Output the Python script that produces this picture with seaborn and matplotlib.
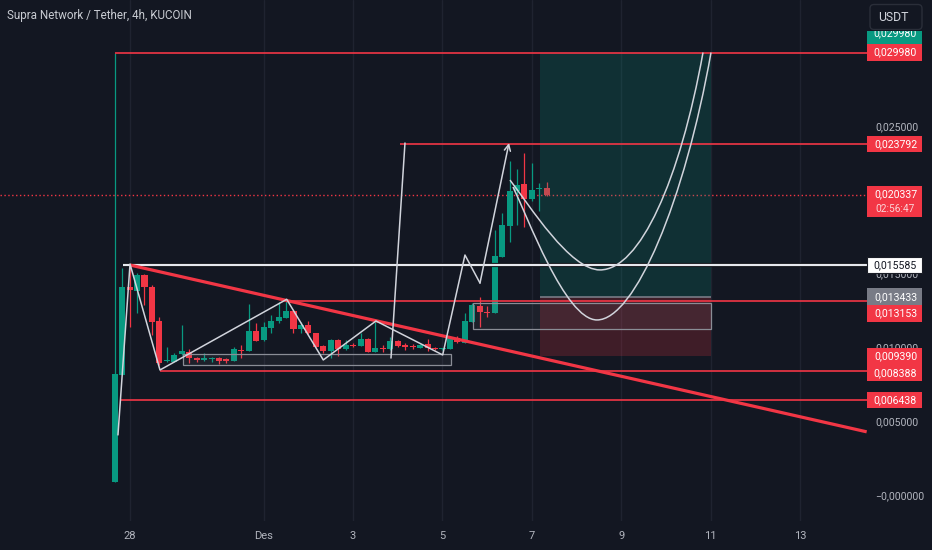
import numpy as np
import pandas as pd
import matplotlib
matplotlib.use("Agg")
import matplotlib.pyplot as plt
import seaborn as sns
from matplotlib.path import Path
from matplotlib.patches import PathPatch, Rectangle, FancyBboxPatch
from matplotlib import font_manager as fm
from matplotlib.ticker import FuncFormatter

# ---------------- data ----------------
opens = [0.00090, 0.00813, 0.01407, 0.01382, 0.01491, 0.01411, 0.01178, 0.00908, 0.00903, 0.00955,
         0.00967, 0.00930, 0.00915, 0.00924, 0.00930, 0.00919, 0.00908, 0.00985, 0.00978, 0.01111,
         0.01050, 0.01134, 0.01179, 0.01201, 0.01247, 0.01125, 0.01152, 0.01096, 0.01010, 0.00978,
         0.01050, 0.00989, 0.01016, 0.01012, 0.01057, 0.00971, 0.00998, 0.00987, 0.01043, 0.01018,
         0.01012, 0.00996, 0.01021, 0.00998, 0.00987, 0.00986, 0.01062, 0.01033, 0.01174, 0.01283,
         0.01242, 0.01231, 0.01615, 0.01825, 0.02060, 0.02105, 0.02006, 0.02073, 0.02078]
highs = [0.02998, 0.01540, 0.01558, 0.01506, 0.01500, 0.01420, 0.01208, 0.01003, 0.00962, 0.01152,
         0.00989, 0.00935, 0.00960, 0.00935, 0.00935, 0.00928, 0.01001, 0.01016, 0.01292, 0.01163,
         0.01174, 0.01220, 0.01310, 0.01326, 0.01254, 0.01174, 0.01179, 0.01098, 0.01016, 0.01057,
         0.01057, 0.01050, 0.01028, 0.01096, 0.01064, 0.01174, 0.01016, 0.01069, 0.01050, 0.01028,
         0.01023, 0.01023, 0.01055, 0.01003, 0.00996, 0.01071, 0.01077, 0.01235, 0.01299, 0.01340,
         0.01281, 0.01796, 0.01913, 0.02265, 0.02207, 0.02319, 0.02252, 0.02112, 0.02123]
lows = [0.00085, 0.00810, 0.01140, 0.01235, 0.01287, 0.01084, 0.00880, 0.00901, 0.00901, 0.00948,
        0.00894, 0.00901, 0.00908, 0.00901, 0.00886, 0.00894, 0.00908, 0.00926, 0.00976, 0.01043,
        0.01043, 0.01096, 0.01163, 0.01199, 0.01096, 0.01100, 0.01091, 0.01003, 0.00960, 0.00926,
        0.00942, 0.00982, 0.01003, 0.01010, 0.00969, 0.00969, 0.00971, 0.00982, 0.01001, 0.00982,
        0.00989, 0.00994, 0.00978, 0.00982, 0.00982, 0.00986, 0.01030, 0.01033, 0.01172, 0.01136,
        0.01204, 0.01230, 0.01613, 0.01716, 0.01829, 0.01818, 0.01994, 0.01926, 0.02029]
closes = [0.00818, 0.01407, 0.01389, 0.01491, 0.01411, 0.01174, 0.00896, 0.00915, 0.00949, 0.00978,
          0.00926, 0.00915, 0.00930, 0.00928, 0.00910, 0.00910, 0.00989, 0.00976, 0.01111, 0.01046,
          0.01136, 0.01179, 0.01204, 0.01247, 0.01125, 0.01152, 0.01096, 0.01005, 0.00978, 0.01050,
          0.00987, 0.01016, 0.01010, 0.01057, 0.00971, 0.00998, 0.00987, 0.01043, 0.01012, 0.01005,
          0.01001, 0.01016, 0.00994, 0.00987, 0.00991, 0.01066, 0.01035, 0.01180, 0.01287, 0.01242,
          0.01231, 0.01619, 0.01829, 0.02060, 0.02100, 0.02006, 0.02067, 0.02078, 0.02034]
first_bar = "2024-11-27 16:00"
base_day = "2024-11-28 00:00"

tick_days = [0, 3, 5, 7, 9, 11, 13, 15]
tick_labels = ["28", "Des", "3", "5", "7", "9", "11", "13"]
price_ticks = [0.0, 0.005, 0.010, 0.015, 0.025]   # 0.020 and 0.030 sit under labels

last_price = 0.020337
countdown = "02:56:47"
title = "Supra Network / Tether, 4h, KUCOIN"

# drawings (x in days after 28 Nov, y in price)
h_rays = [(-0.32, 0.02998, "red"), (6.05, 0.023792, "red"), (-0.155, 0.015585, "white"),
          (3.51, 0.013153, "red"), (0.68, 0.008388, "red"), (-0.21, 0.006438, "red")]
trend_pts = [(0.01, 0.01558), (16.49, 0.00428)]
zigzag = [(-0.26, 0.00407), (0.01, 0.01565), (0.68, 0.00847), (3.515, 0.01326), (4.333, 0.00915),
          (5.512, 0.01179), (7.004, 0.00949), (7.503, 0.01626), (7.839, 0.01436), (8.488, 0.02385)]
spike = [(5.848, 0.00928), (6.161, 0.02385)]
box1 = (1.19, 7.18, 0.00879, 0.00955)
box2 = (7.68, 13.01, 0.01123, 0.01299)
pos_x = (9.18, 13.01)
entry, target, stop = 0.013433, 0.02998, 0.00939
curveA = [(8.510, 0.02134), (8.957, 0.01958), (9.852, 0.01525), (10.523, 0.01525),
          (11.418, 0.01525), (12.313, 0.02134), (12.828, 0.02998)]
curveB = [(8.577, 0.02087), (8.890, 0.01897), (9.740, 0.01186), (10.456, 0.01186),
          (11.306, 0.01186), (12.425, 0.01999), (13.007, 0.02998)]

# ---------------- style ----------------
BG = "#131722"
UP = "#089981"
DN = "#f23645"
TXT = "#b2b5be"
WL = "#d1d4dc"

sns.set_theme(style="dark", rc={"axes.facecolor": BG, "figure.facecolor": BG,
                                "savefig.facecolor": BG})
names = {f.name for f in fm.fontManager.ttflist}
if "Liberation Sans Narrow" in names:
    FONT = "Liberation Sans Narrow"; FS = 8.8; FT = 9.8; FX = 9.2; FB = 10.0
else:
    FONT = "Roboto"; FS = 7.6; FT = 8.4; FX = 8.0; FB = 8.8
plt.rcParams["font.family"] = [FONT, "DejaVu Sans"]

W, H = 932, 550
PR, PB = 867, 521
fig = plt.figure(figsize=(W / 100, H / 100), dpi=100)
ax = fig.add_axes([0, (H - PB) / H, PR / W, PB / H])
ax.set_facecolor(BG)
XL, XR = -2.899, 16.497
ax.set_xlim(XL, XR)
ax.set_ylim(-0.001762, 0.033539)

t = pd.date_range(first_bar, periods=len(opens), freq="4h")
x = ((t - pd.Timestamp(base_day)) / pd.Timedelta("1D")).to_numpy()
o = np.array(opens); h = np.array(highs); l = np.array(lows); c = np.array(closes)
up = c >= o
cols = np.where(up, UP, DN)
bot = np.minimum(o, c)
hgt = np.maximum(np.abs(c - o), 0.00006)

# grid
for d in tick_days:
    ax.axvline(d, color="#1f2330", lw=1.0, zorder=0.5)

# current price dotted line
ax.axhline(last_price, color=DN, lw=1.0, ls=(0, (1, 1.8)), zorder=1)

# candles
ax.vlines(x, l, h, colors=cols, lw=0.9, zorder=2)
ax.bar(x, hgt, bottom=bot, width=0.135, color=cols, linewidth=0, zorder=2.1)

# long position tool
ax.add_patch(Rectangle((pos_x[0], entry), pos_x[1] - pos_x[0], target - entry,
                       facecolor=UP, alpha=0.2, lw=0, zorder=3))
ax.add_patch(Rectangle((pos_x[0], stop), pos_x[1] - pos_x[0], entry - stop,
                       facecolor=DN, alpha=0.2, lw=0, zorder=3))
ax.hlines(entry, pos_x[0], pos_x[1], color="#787b86", lw=1.2, zorder=3.1)

# rectangles
for (x0, x1, y0, y1) in (box1, box2):
    ax.add_patch(Rectangle((x0, y0), x1 - x0, y1 - y0, facecolor="#9598a1", alpha=0.08,
                           lw=0, zorder=3.2))
    ax.add_patch(Rectangle((x0, y0), x1 - x0, y1 - y0, fill=False, edgecolor="#8a8d96",
                           lw=0.9, zorder=3.3))

# horizontal rays
for (x0, yv, kind) in h_rays:
    if kind == "white":
        ax.hlines(yv, x0, XR, color="#0b0d12", lw=3.0, zorder=3.4)
        ax.hlines(yv, x0, XR, color="#e6e8ee", lw=1.6, zorder=3.5)
    else:
        ax.hlines(yv, x0, XR, color=DN, lw=1.2, zorder=3.5)

# trend line
ax.plot([p[0] for p in trend_pts], [p[1] for p in trend_pts], color=DN, lw=2.3,
        solid_capstyle="butt", zorder=3.6)

# zigzag + arrow
ax.plot([p[0] for p in zigzag[:-1]], [p[1] for p in zigzag[:-1]], color=WL, lw=1.1, zorder=4)
ax.annotate("", xy=zigzag[-1], xytext=zigzag[-2],
            arrowprops=dict(arrowstyle="->", color=WL, lw=1.1, shrinkA=0, shrinkB=0,
                            mutation_scale=11), zorder=4)
ax.plot([p[0] for p in spike], [p[1] for p in spike], color=WL, lw=1.1, zorder=4)

# curves
codes = [Path.MOVETO] + [Path.CURVE4] * 6
for cv in (curveA, curveB):
    ax.add_patch(PathPatch(Path(cv, codes), fill=False, edgecolor=WL, lw=1.1, zorder=4))

# axes styling
for s in ax.spines.values():
    s.set_visible(False)
ax.grid(False)
ax.yaxis.tick_right()
ax.set_yticks(price_ticks)


def fmt(v, pos):
    if abs(v) < 1e-12:
        return "\u22120,000000"
    return f"{v:.6f}".replace(".", ",")


ax.yaxis.set_major_formatter(FuncFormatter(fmt))
ax.tick_params(axis="y", length=0, pad=6.2, labelsize=FS, labelcolor=TXT)
ax.set_xticks(tick_days)
ax.set_xticklabels(tick_labels)
ax.tick_params(axis="x", length=0, pad=7.5, labelsize=FX, labelcolor=TXT)
ax.set_xlabel(""); ax.set_ylabel("")

# ---------------- overlay: price labels, title, button ----------------
ov = fig.add_axes([0, 0, 1, 1], zorder=10)
ov.set_xlim(0, W); ov.set_ylim(H, 0); ov.axis("off")
ov.patch.set_alpha(0)


def ypx(p):
    return H - ax.transData.transform((0, p))[1]


LH = 16.7
LX0, LW = 867, 55
CX = LX0 + LW / 2 + 1


def plabel(y, text, bg, fg):
    ov.add_patch(Rectangle((LX0, y - LH / 2), LW, LH, facecolor=bg, lw=0, zorder=11))
    ov.text(CX, y, text, ha="center", va="center", fontsize=FS, color=fg, zorder=12)


# target labels (green one partly hidden at the top)
yt = ypx(target)
ov.add_patch(Rectangle((LX0, 31), LW, yt - LH / 2 - 31, facecolor=UP, lw=0, zorder=11))
ov.text(CX, 33.0, "0,029980", ha="center", va="center", fontsize=FS, color="white", zorder=12)
ov.add_patch(Rectangle((LX0, 22), LW, 9, facecolor=BG, lw=0, zorder=12.5))
plabel(yt, "0,029980", DN, "white")
plabel(ypx(0.023792), "0,023792", DN, "white")
# last price two-line label
yl = ypx(last_price)
ov.add_patch(Rectangle((LX0, yl - 8.5), LW, 31, facecolor=DN, lw=0, zorder=11))
ov.text(CX, yl - 0.5, "0,020337", ha="center", va="center", fontsize=FS,
        color="white", zorder=12)
ov.text(CX, yl + 14, countdown, ha="center", va="center", fontsize=FS - 0.3,
        color="#fbd3d6", zorder=12)
# white label
yw = ypx(0.015585)
ov.add_patch(Rectangle((LX0, yw - LH / 2), LW, LH, facecolor="white", edgecolor="#1a1d26",
                       lw=0.8, zorder=11))
ov.text(CX, yw, "0,015585", ha="center", va="center", fontsize=FS,
        color="#131722", zorder=12)
# stacked lower labels
stack = [(entry, "0,013433", "#787b86"), (0.013153, "0,013153", DN),
         (stop, "0,009390", DN), (0.008388, "0,008388", DN), (0.006438, "0,006438", DN)]
prev = -100
for p, txt, bg in stack:
    y = ypx(p)
    if y - prev < LH:
        y = prev + LH
    plabel(y, txt, bg, "white")
    prev = y

# title
ov.text(7, 16, title, ha="left", va="center", fontsize=FT, color="#c9ccd3", zorder=12)

# USDT button
ov.add_patch(FancyBboxPatch((870, 4.5), 52, 25, boxstyle="round,pad=0,rounding_size=4",
                            facecolor=BG, edgecolor="#2a2e39", lw=1.0, zorder=13))
ov.text(878, 17.5, "USDT", ha="left", va="center", fontsize=FB, color="#d1d4dc", zorder=14)

fig.savefig("out.png", dpi=100, facecolor=BG)
